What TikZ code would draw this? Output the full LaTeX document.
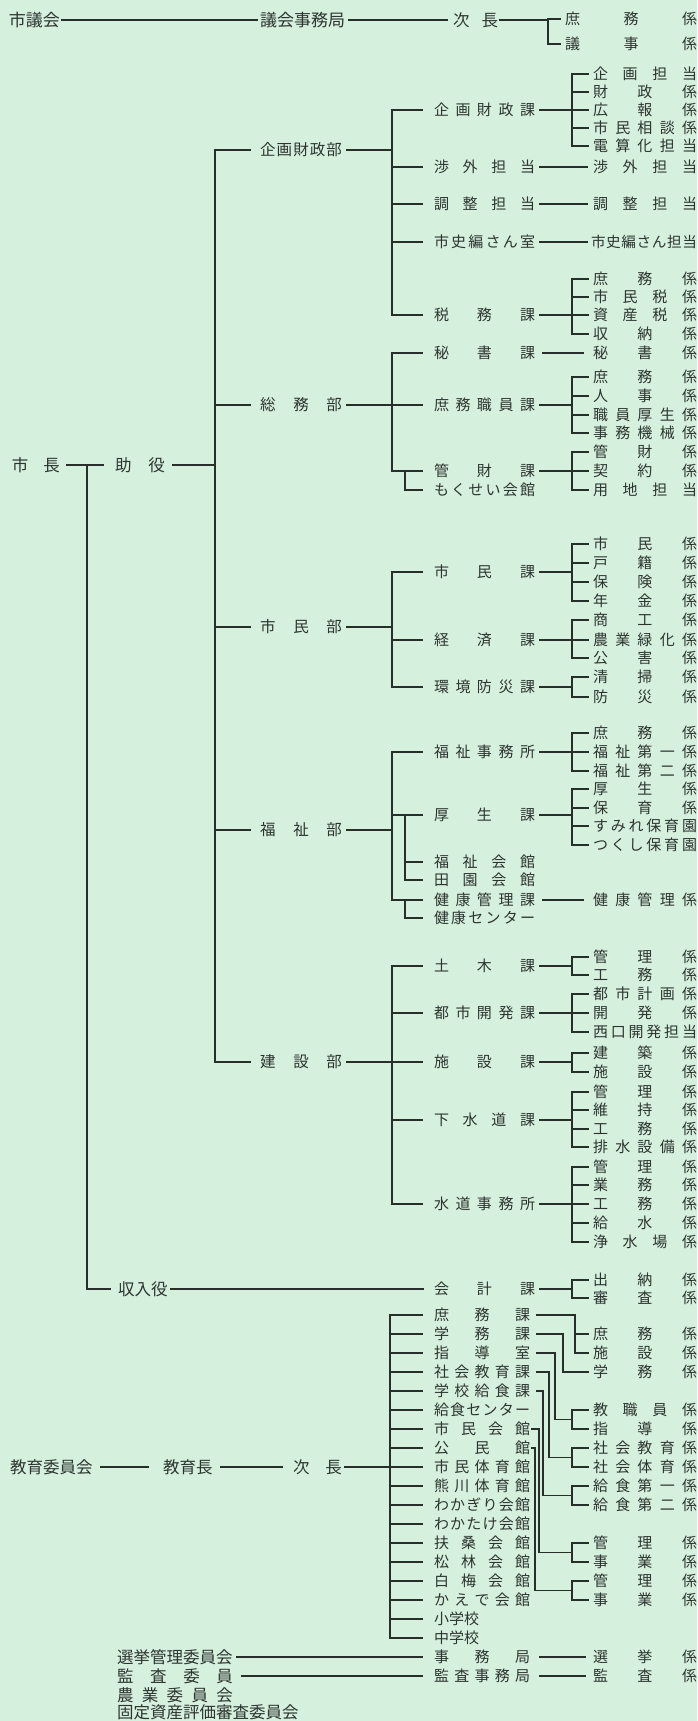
\documentclass[tikz,border=0pt]{standalone}
\usepackage{fontspec}
\newfontfamily\jp{Noto Sans CJK JP}
\definecolor{bgc}{RGB}{214,240,222}
\definecolor{lc}{RGB}{40,46,42}
\definecolor{txt}{RGB}{45,52,48}
\makeatletter
\def\spr@end{}
\def\spreadchars#1{\spr@first#1\spr@end}
\def\spr@first#1{#1\spr@next}
\def\spr@next#1{\ifx#1\spr@end\else\hfil#1\expandafter\spr@next\fi}
\makeatother
\newcommand\spr[2]{\makebox[#1pt][s]{\spreadchars{#2}}}
\newcommand\RC[3]{\node[lb] (#1) at (593,#2) {\spr{104}{#3}};}
\newcommand\MC[3]{\node[lb] (#1) at (434,#2) {\spr{101}{#3}};}
\newcommand\EC[3]{\node[lb] (#1) at (434,#2) {\spr{96}{#3}};}
\newcommand\BR[7]{%
  \draw[ln] ([xshift=#6pt]#1.east) -- (#1.east -| #2);
  \draw[ln] (#3.west -| #2) -- (#4.west -| #2);
  \foreach \ch in {#5}{\draw[ln] (\ch.west -| #2) -- ([xshift=-#7pt]\ch.west);}}
\newcommand\LN[4]{\draw[ln] ([xshift=#3pt]#1.east) -- ([xshift=-#4pt]#2.west);}
\newcommand\PAIR[5]{%
  \path (#3.west -| bx) -- coordinate[pos=0.5] (pj) (#4.west -| bx);
  \draw[ln] ([xshift=#5pt]#1.east) -- (#1.east -| #2) |- (pj);
  \draw[ln] (#3.west -| bx) -- (#4.west -| bx);
  \draw[ln] (#3.west -| bx) -- ([xshift=-5pt]#3.west);
  \draw[ln] (#4.west -| bx) -- ([xshift=-5pt]#4.west);}
\begin{document}
\begin{tikzpicture}[x=1pt,y=-1pt,line cap=rect,
 lb/.style={inner sep=0pt,outer sep=0pt,anchor=west,text=txt,font=\jp\fontsize{15}{15}\selectfont,text height=13.2pt,text depth=1.8pt},
 lm/.style={lb,font=\jp\fontsize{15.5}{15.5}\selectfont,text height=13.6pt,text depth=1.9pt},
 lg/.style={lb,font=\jp\fontsize{16.5}{16.5}\selectfont,text height=14.5pt,text depth=2pt},
 lt/.style={lb,font=\jp\fontsize{17}{17}\selectfont,text height=15pt,text depth=2pt},
 ln/.style={draw=lc,line width=1.2pt}]
\fill[bgc] (0,0) rectangle (697,1721);
\useasboundingbox (0,0) rectangle (697,1721);
\coordinate (bx) at (572,0);
\coordinate (tx) at (548,0);
\coordinate (kb) at (392,0);
\coordinate (sb) at (405,0);
\coordinate (bb) at (215,0);
\coordinate (mv) at (87,0);
\coordinate (eb) at (390,0);
\coordinate (v1) at (575,0);
\coordinate (v2) at (563,0);
\coordinate (v3) at (555,0);
\coordinate (v4) at (549,0);
\coordinate (v5) at (543,0);
\coordinate (v6) at (539,0);
\coordinate (v7) at (535,0);
% top
\node[lt] (sigikai) at (9,20) {市議会};
\node[lt] (gjk) at (260,20) {議会事務局};
\node[lg] (jc0) at (453,20) {\spr{45}{次長}};
\node[lb] (t1) at (565,19) {\spr{132}{庶務係}};
\node[lb] (t2) at (565,44) {\spr{132}{議事係}};
\LN{sigikai}{gjk}{2}{3}
\LN{gjk}{jc0}{4}{6}
\BR{jc0}{tx}{t1}{t2}{t1,t2}{2}{5}
% mayor
\node[lg] (shicho) at (12,465) {\spr{48}{市長}};
\node[lg] (joyaku) at (115,465) {\spr{50}{助役}};
\LN{shicho}{joyaku}{7}{12}
\node[lm] (b1) at (260,150) {\spr{82}{企画財政部}};
\node[lm] (b2) at (260,405) {\spr{82}{総務部}};
\node[lm] (b3) at (260,627) {\spr{82}{市民部}};
\node[lm] (b4) at (260,830) {\spr{82}{福祉部}};
\node[lm] (b5) at (260,1062) {\spr{82}{建設部}};
\BR{joyaku}{bb}{b1}{b5}{b1,b2,b3,b4,b5}{8}{10}
% middle column
\MC{k1}{110}{企画財政課}
\MC{k2}{167}{渉外担当}
\MC{k3}{204}{調整担当}
\MC{k4}{242}{市史編さん室}
\MC{k5}{315}{税務課}
\MC{k6}{353}{秘書課}
\MC{k7}{405}{庶務職員課}
\MC{k8}{471}{管財課}
\MC{k9}{490}{もくせい会館}
\MC{k10}{572}{市民課}
\MC{k11}{640}{経済課}
\MC{k12}{687}{環境防災課}
\MC{k13}{752}{福祉事務所}
\MC{k14}{815}{厚生課}
\MC{k15}{862}{福祉会館}
\MC{k16}{880}{田園会館}
\MC{k17}{900}{健康管理課}
\MC{k18}{918}{健康センター}
\MC{k19}{966}{土木課}
\MC{k20}{1013}{都市開発課}
\MC{k21}{1062}{施設課}
\MC{k22}{1120}{下水道課}
\MC{k23}{1204}{水道事務所}
\MC{k24}{1289}{会計課}
% right column
\RC{r1}{74}{企画担当}
\RC{r2}{92}{財政係}
\RC{r3}{110}{広報係}
\RC{r4}{128}{市民相談係}
\RC{r5}{146}{電算化担当}
\RC{r6}{167}{渉外担当}
\RC{r7}{204}{調整担当}
\node[lb,font=\jp\fontsize{14.6}{14.6}\selectfont] (r8) at (591,242) {\spr{106}{市史編さん担当}};
\RC{r9}{279}{庶務係}
\RC{r10}{297}{市民税係}
\RC{r11}{315}{資産税係}
\RC{r12}{334}{収納係}
\RC{r13}{353}{秘書係}
\RC{r14}{377}{庶務係}
\RC{r15}{396}{人事係}
\RC{r16}{415}{職員厚生係}
\RC{r17}{433}{事務機械係}
\RC{r18}{452}{管財係}
\RC{r19}{471}{契約係}
\RC{r20}{490}{用地担当}
\RC{r21}{544}{市民係}
\RC{r22}{563}{戸籍係}
\RC{r23}{582}{保険係}
\RC{r24}{601}{年金係}
\RC{r25}{620}{商工係}
\RC{r26}{640}{農業緑化係}
\RC{r27}{658}{公害係}
\RC{r28}{677}{清掃係}
\RC{r29}{697}{防災係}
\RC{r30}{733}{庶務係}
\RC{r31}{752}{福祉第一係}
\RC{r32}{771}{福祉第二係}
\RC{r33}{789}{厚生係}
\RC{r34}{808}{保育係}
\RC{r35}{826}{すみれ保育園}
\RC{r36}{845}{つくし保育園}
\RC{r37}{900}{健康管理係}
\RC{r38}{957}{管理係}
\RC{r39}{975}{工務係}
\RC{r40}{994}{都市計画係}
\RC{r41}{1013}{開発係}
\RC{r42}{1032}{西口開発担当}
\RC{r43}{1053}{建築係}
\RC{r44}{1072}{施設係}
\RC{r45}{1092}{管理係}
\RC{r46}{1110}{維持係}
\RC{r47}{1129}{工務係}
\RC{r48}{1147}{排水設備係}
\RC{r49}{1167}{管理係}
\RC{r50}{1185}{業務係}
\RC{r51}{1204}{工務係}
\RC{r52}{1223}{給水係}
\RC{r53}{1242}{浄水場係}
\RC{r54}{1280}{出納係}
\RC{r55}{1298}{審査係}
% brackets
\BR{b1}{kb}{k1}{k5}{k1,k2,k3,k4,k5}{5}{12}
\BR{k1}{bx}{r1}{r5}{r1,r2,r3,r4,r5}{5}{5}
\LN{k2}{r6}{5}{6}
\LN{k3}{r7}{5}{6}
\LN{k4}{r8}{5}{4}
\BR{k5}{bx}{r9}{r12}{r9,r10,r11,r12}{5}{5}
\BR{b2}{kb}{k6}{k8}{k6,k7,k8}{5}{12}
\LN{k6}{r13}{8}{10}
\BR{k7}{bx}{r14}{r17}{r14,r15,r16,r17}{5}{5}
\BR{k8}{bx}{r18}{r20}{r18,r19,r20}{5}{5}
\draw[ln] (k8.west -| sb) |- ([xshift=-12pt]k9.west);
\BR{b3}{kb}{k10}{k12}{k10,k11,k12}{5}{12}
\BR{k10}{bx}{r21}{r24}{r21,r22,r23,r24}{5}{5}
\BR{k11}{bx}{r25}{r27}{r25,r26,r27}{5}{5}
\BR{k12}{bx}{r28}{r29}{r28,r29}{5}{5}
\BR{b4}{kb}{k13}{k17}{k13,k14,k17}{5}{12}
\BR{k13}{bx}{r30}{r32}{r30,r31,r32}{5}{5}
\BR{k14}{bx}{r33}{r36}{r33,r34,r35,r36}{5}{5}
\draw[ln] (k14.west -| sb) |- ([xshift=-12pt]k16.west);
\draw[ln] (k15.west -| sb) -- ([xshift=-12pt]k15.west);
\LN{k17}{r37}{8}{10}
\draw[ln] (k17.west -| sb) |- ([xshift=-12pt]k18.west);
\BR{b5}{kb}{k19}{k23}{k19,k20,k21,k22,k23}{5}{12}
\BR{k19}{bx}{r38}{r39}{r38,r39}{5}{5}
\BR{k20}{bx}{r40}{r42}{r40,r41,r42}{5}{5}
\BR{k21}{bx}{r43}{r44}{r43,r44}{5}{5}
\BR{k22}{bx}{r45}{r48}{r45,r46,r47,r48}{5}{5}
\BR{k23}{bx}{r49}{r53}{r49,r50,r51,r52,r53}{5}{5}
% treasurer
\node[lg] (shunyu) at (118,1289) {収入役};
\draw[ln] (shicho.east -| mv) |- ([xshift=-8pt]shunyu.west);
\LN{shunyu}{k24}{3}{11}
\BR{k24}{bx}{r54}{r55}{r54,r55}{5}{5}
% education
\node[lg] (kyoi) at (10,1467) {教育委員会};
\node[lg] (kyocho) at (163,1467) {教育長};
\node[lg] (jc1) at (293,1467) {\spr{49}{次長}};
\LN{kyoi}{kyocho}{8}{15}
\LN{kyocho}{jc1}{8}{11}
\EC{e1}{1315}{庶務課}
\EC{e2}{1334}{学務課}
\EC{e3}{1353}{指導室}
\EC{e4}{1372}{社会教育課}
\EC{e5}{1391}{学校給食課}
\EC{e6}{1410}{給食センター}
\EC{e7}{1429}{市民会館}
\EC{e8}{1448}{公民館}
\EC{e9}{1467}{市民体育館}
\EC{e10}{1486}{熊川体育館}
\EC{e11}{1505}{わかぎり会館}
\EC{e12}{1524}{わかたけ会館}
\EC{e13}{1543}{扶桑会館}
\EC{e14}{1562}{松林会館}
\EC{e15}{1581}{白梅会館}
\EC{e16}{1600}{かえで会館}
\node[lb] (e17) at (434,1619) {小学校};
\node[lb] (e18) at (434,1638) {中学校};
\BR{jc1}{eb}{e1}{e18}{e1,e2,e3,e4,e5,e6,e7,e8,e9,e10,e11,e12,e13,e14,e15,e16,e17,e18}{3}{12}
\RC{s1}{1334}{庶務係}
\RC{s2}{1353}{施設係}
\RC{s3}{1372}{学務係}
\RC{s4}{1410}{教職員係}
\RC{s5}{1429}{指導係}
\RC{s6}{1448}{社会教育係}
\RC{s7}{1467}{社会体育係}
\RC{s8}{1486}{給食第一係}
\RC{s9}{1505}{給食第二係}
\RC{s10}{1543}{管理係}
\RC{s11}{1562}{事業係}
\RC{s12}{1581}{管理係}
\RC{s13}{1600}{事業係}
\draw[ln] ([xshift=7pt]e1.east) -- (e1.east -| v1) -- (s2.west -| v1) -- ([xshift=-5pt]s2.west);
\draw[ln] (s1.west -| v1) -- ([xshift=-5pt]s1.west);
\draw[ln] ([xshift=7pt]e2.east) -- (e2.east -| v2) |- ([xshift=-5pt]s3.west);
\PAIR{e3}{v3}{s4}{s5}{7}
\PAIR{e4}{v4}{s6}{s7}{7}
\PAIR{e5}{v5}{s8}{s9}{7}
\PAIR{e7}{v6}{s10}{s11}{2}
\PAIR{e8}{v7}{s12}{s13}{2}
% committees
\node[lg] (senkan) at (117,1657) {選挙管理委員会};
\node[lg] (kansa) at (117,1676) {\spr{116}{監査委員}};
\node[lg] (nogyo) at (117,1695) {\spr{116}{農業委員会}};
\node[lg] (kotei) at (117,1712) {固定資産評価審査委員会};
\EC{jmk}{1657}{事務局}
\EC{ksj}{1676}{監査事務局}
\RC{u1}{1657}{選挙係}
\RC{u2}{1676}{監査係}
\LN{senkan}{jmk}{4}{12}
\LN{kansa}{ksj}{9}{12}
\LN{jmk}{u1}{10}{8}
\LN{ksj}{u2}{10}{8}
\end{tikzpicture}
\end{document}
